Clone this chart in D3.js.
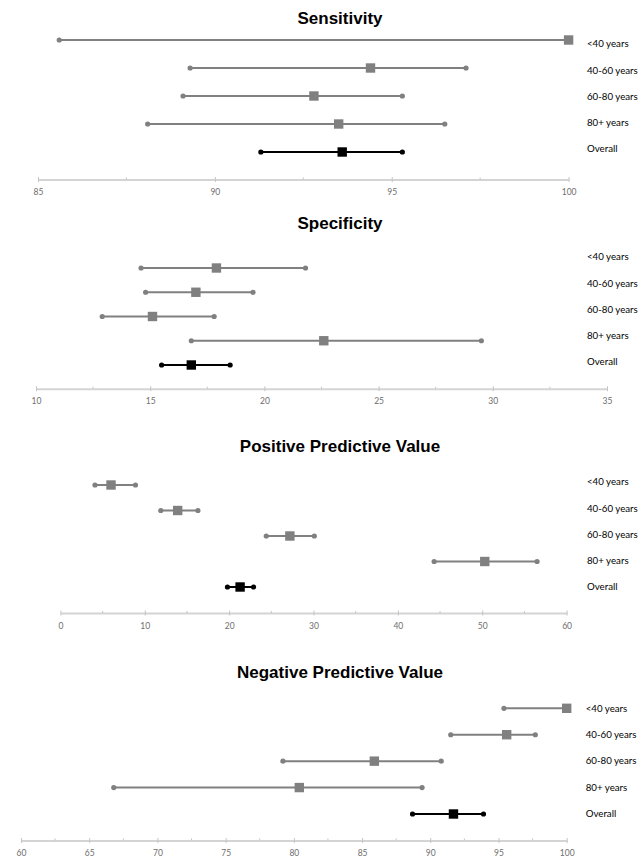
<!DOCTYPE html>
<html>
<head>
<meta charset="utf-8">
<script src="https://cdn.jsdelivr.net/npm/d3@7"></script>
<style>
  html, body { margin: 0; padding: 0; background: #fff; }
  svg { display: block; }
</style>
</head>
<body>
<div id="chart"></div>
<script>
// row names, top to bottom
var groups = ['<40 years', '40-60 years', '60-80 years', '80+ years', 'Overall'];
var titles = ['Sensitivity', 'Specificity', 'Positive Predictive Value', 'Negative Predictive Value'];

// point estimate and 95% CI per row
var sensPoint = [100, 94.4, 92.8, 93.5, 93.6];
var sensLow   = [85.6, 89.3, 89.1, 88.1, 91.3];
var sensHigh  = [100, 97.1, 95.3, 96.5, 95.3];

var specPoint = [17.9, 17.0, 15.1, 22.6, 16.8];
var specLow   = [14.6, 14.8, 12.9, 16.8, 15.5];
var specHigh  = [21.8, 19.5, 17.8, 29.5, 18.5];

var ppvPoint = [6.0, 13.9, 27.2, 50.3, 21.3];
var ppvLow   = [4.1, 11.9, 24.4, 44.3, 19.8];
var ppvHigh  = [8.9, 16.3, 30.1, 56.5, 22.9];

var npvPoint = [100, 95.6, 85.9, 80.4, 91.7];
var npvLow   = [95.4, 91.5, 79.2, 66.8, 88.7];
var npvHigh  = [100, 97.7, 90.8, 89.4, 93.9];

// axis tick labels
var sensTicks = [85, 90, 95, 100];
var specTicks = [10, 15, 20, 25, 30, 35];
var ppvTicks  = [0, 10, 20, 30, 40, 50, 60];
var npvTicks  = [60, 65, 70, 75, 80, 85, 90, 95, 100];

var W = 640, H = 863;

// layout of each panel (pixels)
var panels = [
  { title: titles[0], point: sensPoint, low: sensLow, high: sensHigh, ticks: sensTicks,
    x0: 38, x1: 568.6, titleY: 24, rows: [40, 152], labels: [44, 148.7], labelX: 587, axisY: 179.5 },
  { title: titles[1], point: specPoint, low: specLow, high: specHigh, ticks: specTicks,
    x0: 36, x1: 607, titleY: 229, rows: [268, 365], labels: [257, 362], labelX: 587, axisY: 388.7 },
  { title: titles[2], point: ppvPoint, low: ppvLow, high: ppvHigh, ticks: ppvTicks,
    x0: 60.4, x1: 566.6, titleY: 452, rows: [485, 587], labels: [482, 587], labelX: 587, axisY: 613 },
  { title: titles[3], point: npvPoint, low: npvLow, high: npvHigh, ticks: npvTicks,
    x0: 21, x1: 566.7, titleY: 678, rows: [708.3, 814], labels: [708.3, 813.7], labelX: 585.7, axisY: 840.5 }
];

var svg = d3.select('#chart')
            .append('svg')
            .attr('width', W)
            .attr('height', H);

svg.append('rect')
   .attr('width', W)
   .attr('height', H)
   .attr('fill', '#fff');

panels.forEach(function(p) {

  var g = svg.append('g');

  var x = d3.scaleLinear()
            .domain(d3.extent(p.ticks))
            .range([p.x0, p.x1]);

  var y = d3.scalePoint()
            .domain(groups)
            .range(p.rows);

  var ly = d3.scalePoint()
             .domain(groups)
             .range(p.labels);

  // title
  g.append('text')
   .attr('x', 340)
   .attr('y', p.titleY)
   .attr('text-anchor', 'middle')
   .attr('font-family', 'Liberation Sans, Arial, sans-serif')
   .attr('font-weight', 'bold')
   .attr('font-size', 17)
   .attr('fill', '#000')
   .text(p.title);

  // axis
  var step = p.ticks[1] - p.ticks[0];
  var minor = p.ticks.slice(0, -1).map(function(t) { return t + step / 2; });

  var ax = g.append('g')
            .attr('transform', 'translate(0,' + p.axisY + ')')
            .call(d3.axisBottom(x).tickValues(p.ticks).tickSizeOuter(0).tickSizeInner(2.5).tickPadding(7));

  ax.select('.domain')
    .attr('stroke', '#d4d4d4')
    .attr('stroke-width', 2);

  ax.selectAll('.tick line')
    .attr('y1', -2.5)
    .attr('stroke', '#c4c4c4')
    .attr('stroke-width', 1);

  ax.selectAll('.tick text')
    .attr('font-family', 'Lato, sans-serif')
    .attr('font-size', 8.5)
    .attr('fill', '#6e6e6e');

  ax.selectAll('.minor')
    .data(minor)
    .enter()
    .append('line')
    .attr('x1', function(d) { return x(d); })
    .attr('x2', function(d) { return x(d); })
    .attr('y1', -2)
    .attr('y2', 0)
    .attr('stroke', '#c4c4c4')
    .attr('stroke-width', 1);

  // rows
  var rows = g.selectAll('.row')
              .data(groups)
              .enter()
              .append('g')
              .attr('class', 'row');

  function col(d) { return d === 'Overall' ? '#000' : '#808080'; }

  rows.append('line')
      .attr('x1', function(d, i) { return x(p.low[i]); })
      .attr('x2', function(d, i) { return x(p.high[i]); })
      .attr('y1', function(d) { return y(d); })
      .attr('y2', function(d) { return y(d); })
      .attr('stroke', col)
      .attr('stroke-width', 2);

  rows.append('circle')
      .attr('cx', function(d, i) { return x(p.low[i]); })
      .attr('cy', function(d) { return y(d); })
      .attr('r', 2.6)
      .attr('fill', col);

  rows.append('circle')
      .attr('cx', function(d, i) { return x(p.high[i]); })
      .attr('cy', function(d) { return y(d); })
      .attr('r', 2.6)
      .attr('fill', col);

  rows.append('rect')
      .attr('x', function(d, i) { return x(p.point[i]) - 4.7; })
      .attr('y', function(d) { return y(d) - 4.7; })
      .attr('width', 9.4)
      .attr('height', 9.4)
      .attr('fill', col);

  rows.append('text')
      .attr('x', p.labelX)
      .attr('y', function(d) { return ly(d); })
      .attr('dy', '0.35em')
      .attr('font-family', 'Lato, sans-serif')
      .attr('font-size', 9.7)
      .attr('fill', '#000')
      .text(function(d) { return d; });

});
</script>
</body>
</html>
